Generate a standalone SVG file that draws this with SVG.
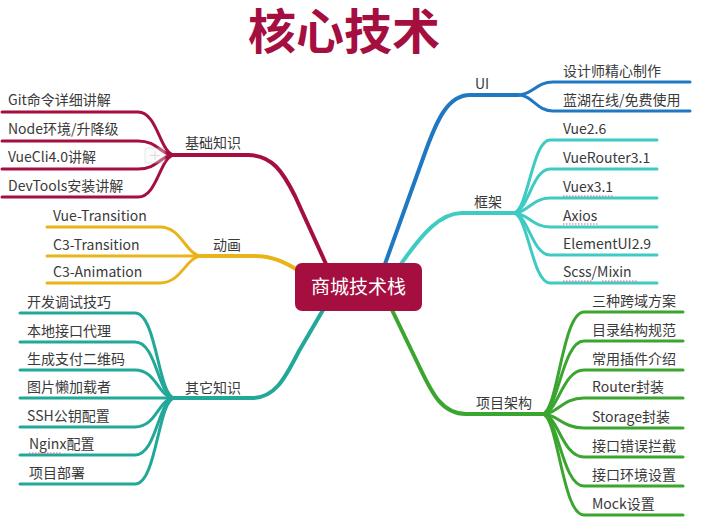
<svg xmlns="http://www.w3.org/2000/svg" width="704" height="524" viewBox="0 0 704 524">
<style>
.c{fill:none;stroke-linecap:round;stroke-linejoin:round}
.m{stroke-width:4}
.l{stroke-width:3}
.r{stroke:#a50f3f}
.y{stroke:#e8b418}
.t{stroke:#22a898}
.b{stroke:#1f78c2}
.k{stroke:#3fcbc3}
.g{stroke:#3aa52f}
text{font-family:"Noto Sans CJK SC","Noto Sans",sans-serif;font-size:14px;fill:#3a3a3a}
.u{fill:none;stroke:#e05a8a;stroke-width:1.2;stroke-dasharray:1.5 1.5}
</style>
<rect width="704" height="524" fill="#ffffff"/>
<text id="title" x="344" y="49" text-anchor="middle" style="font-family:'Liberation Sans','Noto Sans CJK SC',sans-serif;font-size:48px;font-weight:bold;fill:#a50f3f">核心技术</text>
<g id="connectors">
<path class="c m r" d="M175,155 H248 C272,155 283,172 295,196 L326,264"/>
<path class="c m y" d="M202,256 H255 C272,256 285,262 299,271"/>
<path class="c m t" d="M175,398 H252 C276,398 286,376 299,351 L323,310"/>
<path class="c m b" d="M518,95 H470 C448,95 437,120 426,150 L385,264"/>
<path class="c m k" d="M513,213 H462 C440,213 422,234 401,264"/>
<path class="c m g" d="M542,414 H466 C441,414 431,391 419,366 L392,310"/>
<path class="c l r" d="M175,155 C160,155 158,112 138,112 H2"/>
<path class="c l r" d="M175,155 C160,155 158,141 138,141 H2"/>
<path class="c l r" d="M175,155 C160,155 158,169 138,169 H2"/>
<path class="c l r" d="M175,155 C160,155 158,197 138,197 H2"/>
<path class="c l y" d="M202,256 C186,256 182,227 160,227 H47"/>
<path class="c l y" d="M202,256 H47"/>
<path class="c l y" d="M202,256 C186,256 182,283 160,283 H47"/>
<path class="c l t" d="M175,398 C158,398 157,313 135,313 H20"/>
<path class="c l t" d="M175,398 C158,398 157,342 135,342 H20"/>
<path class="c l t" d="M175,398 C158,398 157,370 135,370 H20"/>
<path class="c l t" d="M175,398 H20"/>
<path class="c l t" d="M175,398 C158,398 157,427 135,427 H20"/>
<path class="c l t" d="M175,398 C158,398 157,455 135,455 H20"/>
<path class="c l t" d="M175,398 C158,398 157,484 135,484 H20"/>
<path class="c l b" d="M518,95 C533,95 536,82 553,82 H690"/>
<path class="c l b" d="M518,95 C533,95 536,111 553,111 H690"/>
<path class="c l k" d="M513,213 C528,213 532,140 550,140 H657"/>
<path class="c l k" d="M513,213 C528,213 532,169 550,169 H657"/>
<path class="c l k" d="M513,213 C528,213 532,198 550,198 H657"/>
<path class="c l k" d="M513,213 C528,213 532,227 550,227 H657"/>
<path class="c l k" d="M513,213 C528,213 532,255 550,255 H657"/>
<path class="c l k" d="M513,213 C528,213 532,283 550,283 H657"/>
<path class="c l g" d="M542,414 C558,414 562,312 584,312 H683"/>
<path class="c l g" d="M542,414 C558,414 562,341 584,341 H683"/>
<path class="c l g" d="M542,414 C558,414 562,370 584,370 H683"/>
<path class="c l g" d="M542,414 C558,414 562,398 584,398 H683"/>
<path class="c l g" d="M542,414 C558,414 562,428 584,428 H683"/>
<path class="c l g" d="M542,414 C558,414 562,457 584,457 H683"/>
<path class="c l g" d="M542,414 C558,414 562,486 584,486 H683"/>
<path class="c l g" d="M542,414 C558,414 562,515 584,515 H683"/>
</g>
<g id="toggle" opacity="0.35">
<rect x="145" y="148" width="20" height="15" rx="3" fill="#f4f4f4" stroke="#bbbbbb" stroke-width="1"/>
<path d="M150,155.5 H160 M155,151 V160" stroke="#999999" stroke-width="1"/>
</g>
<g id="center">
<rect x="295" y="263" width="127" height="48" rx="7" fill="#a50f3f"/>
<text x="358.5" y="294" text-anchor="middle" style="font-size:19px;fill:#ffffff">商城技术栈</text>
</g>
<g id="basic">
<text x="185" y="148">基础知识</text>
<text x="8" y="105">Git命令详细讲解</text>
<text x="8" y="134">Node环境/升降级</text>
<text x="8" y="162">VueCli4.0讲解</text>
<text x="8" y="191">DevTools安装讲解</text>
</g>
<g id="anim">
<text x="213" y="250">动画</text>
<text x="53" y="221">Vue-Transition</text>
<text x="53" y="250">C3-Transition</text>
<text x="53" y="277">C3-Animation</text>
</g>
<g id="other">
<text x="185" y="393">其它知识</text>
<text x="27" y="307">开发调试技巧</text>
<text x="27" y="336">本地接口代理</text>
<text x="27" y="364">生成支付二维码</text>
<text x="27" y="392">图片懒加载者</text>
<text x="27" y="421">SSH公钥配置</text>
<text x="29" y="449">Nginx配置</text>
<text x="29" y="478">项目部署</text>
<path class="u" d="M29,453 H62"/>
</g>
<g id="ui">
<text x="475" y="89">UI</text>
<text x="563" y="76">设计师精心制作</text>
<text x="563" y="105">蓝湖在线/免费使用</text>
</g>
<g id="framework">
<text x="474" y="207">框架</text>
<text x="563" y="134">Vue2.6</text>
<text x="563" y="163">VueRouter3.1</text>
<text x="563" y="192">Vuex3.1</text>
<text x="563" y="221">Axios</text>
<text x="563" y="249">ElementUI2.9</text>
<text x="563" y="277">Scss/Mixin</text>
<path class="u" d="M563,196 H613 M563,224 H598 M563,281 H593 M602,281 H637"/>
</g>
<g id="project">
<text x="476" y="408">项目架构</text>
<text x="592" y="306">三种跨域方案</text>
<text x="592" y="335">目录结构规范</text>
<text x="592" y="364">常用插件介绍</text>
<text x="592" y="392">Router封装</text>
<text x="592" y="422">Storage封装</text>
<text x="592" y="451">接口错误拦截</text>
<text x="592" y="480">接口环境设置</text>
<text x="592" y="509">Mock设置</text>
</g>
</svg>
